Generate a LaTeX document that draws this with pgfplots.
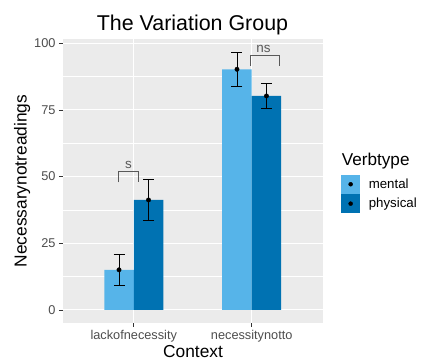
\documentclass[border=0pt]{standalone}
\usepackage{pgfplots}
\pgfplotsset{compat=1.18}
\usepackage{fontspec}
\setmainfont{Liberation Sans}
\definecolor{mentalc}{HTML}{56B4E9}
\definecolor{physc}{HTML}{0072B2}
\definecolor{panelbg}{HTML}{EBEBEB}
\definecolor{ticktext}{HTML}{4D4D4D}
\definecolor{tickline}{HTML}{333333}
\definecolor{brk}{HTML}{595959}

\begin{document}
\begin{tikzpicture}[x=1bp,y=1bp]
\path[use as bounding box] (0,0) rectangle (422,360);
\begin{axis}[
 at={(63bp,37.3bp)}, anchor=south west,
 scale only axis, width=259.5bp, height=283.4bp,
 xmin=0.4, xmax=2.6, ymin=-4.83, ymax=101.45,
 axis background/.style={fill=panelbg},
 axis line style={draw=none},
 xtick={1,2}, xticklabels={lackofnecessity,necessitynotto},
 ytick={0,25,50,75,100},
 minor ytick={12.5,37.5,62.5,87.5},
 grid=both,
 major grid style={white, line width=1.1bp},
 minor grid style={white, line width=0.55bp},
 tick style={tickline, line width=0.6bp},
 major tick length=4bp, minor tick length=0bp,
 tick align=outside,
 xtick pos=bottom, ytick pos=left,
 ticklabel style={font=\fontsize{12.8}{14}\selectfont, text=ticktext},
 /pgf/number format/assume math mode=true,
 xlabel={Context}, ylabel={Necessarynotreadings},
 label style={font=\fontsize{17.4}{18}\selectfont},
 xlabel style={at={(axis description cs:0.501,-0.122)}, anchor=base},
 ylabel style={at={(axis description cs:-0.1398,0.5)}, anchor=base},
 legend style={at={(axis description cs:1.073,0.521)}, anchor=north west,
   draw=none, fill=none, inner sep=0pt, outer sep=0pt, font=\fontsize{13.3}{14}\selectfont,
   row sep=1bp, column sep=9bp, nodes={inner sep=0pt}},
 legend cell align=left,
]
\addlegendimage{legend image code/.code={\fill[mentalc] (0bp,-9bp) rectangle (18bp,9bp); \fill[black] (9bp,0bp) circle (2bp);}}
\addlegendentry{mental}
\addlegendimage{legend image code/.code={\fill[physc] (0bp,-9bp) rectangle (18bp,9bp); \fill[black] (9bp,0bp) circle (2bp);}}
\addlegendentry{physical}

\addplot[ybar, bar width=29.5bp, bar shift=-14.75bp, fill=mentalc, draw=none, forget plot]
  coordinates {(1,15.0) (2,90.2)};
\addplot[ybar, bar width=29.5bp, bar shift=14.75bp, fill=physc, draw=none, forget plot]
  coordinates {(1,41.2) (2,80.2)};

\addplot[only marks, mark=*, mark size=2.2bp, black, forget plot,
  error bars/.cd, y dir=both, y explicit,
  error bar style={black, line width=0.8bp},
  error mark options={rotate=90, mark size=5.5bp, black, line width=0.8bp}]
  coordinates {(0.875,15.0) +- (0,5.7) (1.125,41.2) +- (0,7.8) (1.875,90.2) +- (0,6.4) (2.125,80.2) +- (0,4.75)};

\addplot[brk, line width=1bp, forget plot] coordinates {(0.873,47.8) (0.873,51.9) (1.042,51.9) (1.042,47.8)};
\addplot[brk, line width=1bp, forget plot] coordinates {(1.986,91.6) (1.986,95.4) (2.237,95.4) (2.237,91.6)};
\node[font=\fontsize{13.5}{14}\selectfont, text=brk, anchor=base] at (axis cs:0.955,52.9) {s};
\node[font=\fontsize{13.5}{14}\selectfont, text=brk, anchor=base] at (axis cs:2.1,96.4) {ns};
\end{axis}
\node[anchor=base, font=\fontsize{21.5}{22}\selectfont] at (192.5,330) {The Variation Group};
\node[anchor=base west, font=\fontsize{17.2}{18}\selectfont, inner sep=0pt] at (341.7,195) {Verbtype};
\end{tikzpicture}
\end{document}
